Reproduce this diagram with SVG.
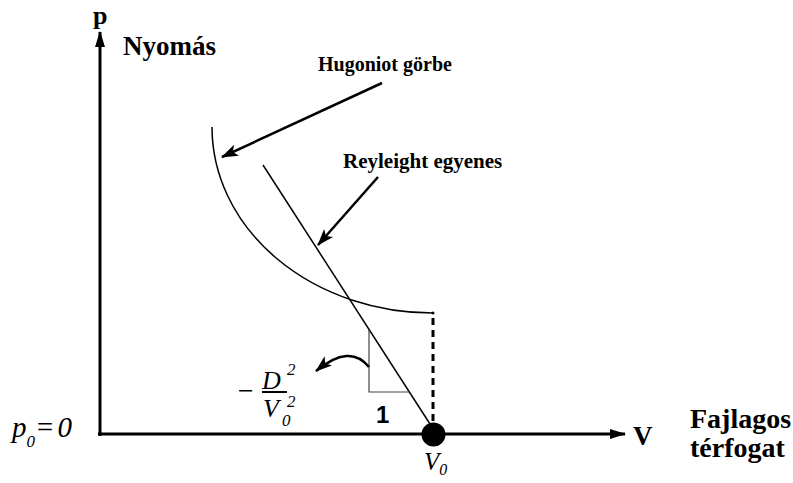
<svg xmlns="http://www.w3.org/2000/svg" width="793" height="483" viewBox="0 0 793 483">
<style>
.lbl{font-family:"Liberation Serif","Times New Roman",serif;font-weight:bold;fill:#000}
.math{font-family:"Liberation Serif","Times New Roman",serif;font-style:italic;fill:#000}
.ax{stroke:#000;stroke-width:3;fill:none}
.ln{stroke:#000;stroke-width:1.5;fill:none}
.thin{stroke:#444;stroke-width:1.2;fill:none}
.ptr{stroke:#000;stroke-width:2.5;fill:none}
</style>
<defs>
<marker id="axh" markerUnits="userSpaceOnUse" markerWidth="18" markerHeight="12" refX="15" refY="6" orient="auto"><path d="M0,1 L16,6 L0,11 Z" fill="#000"/></marker>
<marker id="ptrh" markerUnits="userSpaceOnUse" markerWidth="20" markerHeight="14" refX="16" refY="7" orient="auto"><path d="M0,1 L17,7 L0,13 L4,7 Z" fill="#000"/></marker>
</defs>
<rect width="793" height="483" fill="#fff"/>
<g id="axes">
<path class="ax" d="M100 436 L100 32" marker-end="url(#axh)"/>
<path class="ax" d="M98 434 L625 434" marker-end="url(#axh)"/>
<text class="lbl" x="93" y="24" font-size="26">p</text>
<text class="lbl" x="123" y="55" font-size="27">Nyomás</text>
<text class="lbl" x="633" y="445" font-size="27">V</text>
<text class="lbl" x="690" y="428" font-size="28">Fajlagos</text>
<text class="lbl" x="690" y="457" font-size="28">térfogat</text>
<text class="math" x="12" y="437" font-size="29">p<tspan font-size="17" dy="10">0</tspan><tspan dy="-10">=</tspan><tspan dx="3">0</tspan></text>
</g>
<g id="hugoniot">
<path class="ln" d="M212 127 A221 186 0 0 0 433 313"/>
<circle cx="433" cy="313" r="1.5" fill="#000"/>
<text class="lbl" x="318" y="71" font-size="20">Hugoniot görbe</text>
</g>
<g id="reyleight">
<path class="ln" d="M263 165 L430 424"/>
<text class="lbl" x="343" y="168" font-size="21">Reyleight egyenes</text>
</g>
<g id="triangle">
<path class="thin" d="M369 330 L369 392 L409 392"/>
<text x="376" y="423" font-family="Liberation Sans, Arial, sans-serif" font-weight="bold" font-size="24">1</text>
</g>
<g id="slope">
<text class="math" x="236" y="400" font-size="28" font-style="normal">−</text>
<text class="math" x="262" y="389" font-size="26">D</text>
<text class="math" x="287" y="375" font-size="17">2</text>
<line x1="262" y1="392" x2="287" y2="392" stroke="#000" stroke-width="2"/>
<text class="math" x="263" y="417" font-size="26">V</text>
<text class="math" x="282" y="426" font-size="17">0</text>
<text class="math" x="287" y="407" font-size="17">2</text>
</g>
<g id="v0">
<circle cx="433.5" cy="434.5" r="12" fill="#000"/>
<text class="math" x="424" y="470" font-size="25">V<tspan font-size="16" dy="5">0</tspan></text>
</g>
<g id="connectors">
<path d="M433 318 L433 424" stroke="#000" stroke-width="3" stroke-dasharray="7 5" fill="none"/>
<path class="ptr" d="M382 83 L222 157" marker-end="url(#ptrh)"/>
<path class="ptr" d="M378 177 L318 245" marker-end="url(#ptrh)"/>
<path class="ptr" d="M369 367 Q350 343 316 371" marker-end="url(#ptrh)"/>
</g>
</svg>
